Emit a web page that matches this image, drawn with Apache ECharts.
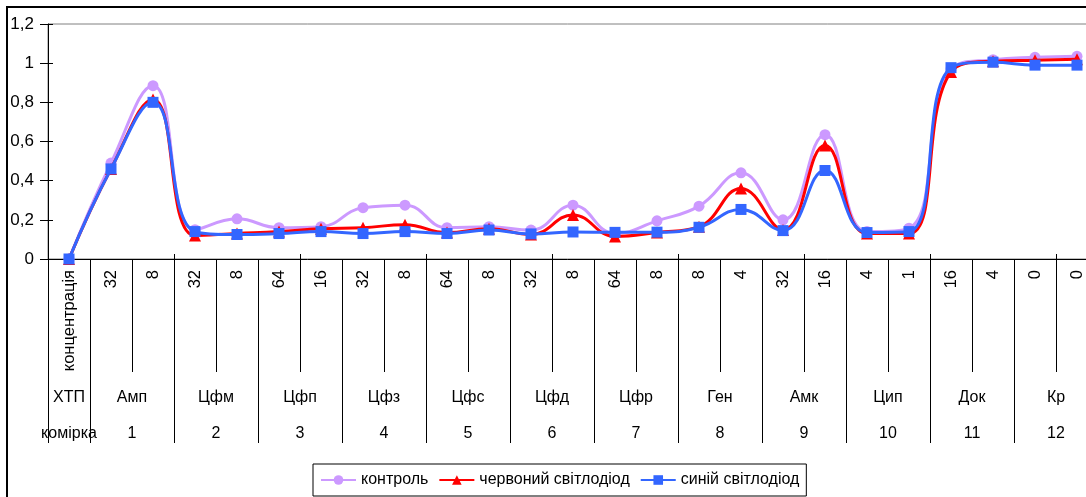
<!DOCTYPE html>
<html>
<head>
<meta charset="utf-8">
<script src="https://cdn.jsdelivr.net/npm/echarts@6/dist/echarts.min.js"></script>
<style>
html,body{margin:0;padding:0;background:#fff;}
#c{width:1086px;height:497px;}
</style>
</head>
<body>
<div id="c"></div>
<script>
// ---- data ----
const categories = ['концентрація','32','8','32','8','64','16','32','8','64','8','32','8','64','8','8','4','32','16','4','1','16','4','0','0'];
const groupNames = ['ХТП','Амп','Цфм','Цфп','Цфз','Цфс','Цфд','Цфр','Ген','Амк','Цип','Док','Кр'];
const cellRow = ['комірка','1','2','3','4','5','6','7','8','9','10','11','12'];
const yTicks = [0, 0.2, 0.4, 0.6, 0.8, 1, 1.2];
const seriesNames = ['контроль','червоний світлодіод','синій світлодіод'];
const control = [0, 0.49, 0.885, 0.15, 0.205, 0.16, 0.165, 0.262, 0.275, 0.16, 0.165, 0.148, 0.275, 0.13, 0.195, 0.27, 0.44, 0.2, 0.635, 0.14, 0.157, 0.97, 1.018, 1.03, 1.035];
const red     = [0, 0.46, 0.815, 0.12, 0.13, 0.14, 0.155, 0.16, 0.175, 0.135, 0.155, 0.125, 0.225, 0.115, 0.135, 0.165, 0.36, 0.148, 0.58, 0.13, 0.13, 0.955, 1.01, 1.015, 1.02];
const blue    = [0, 0.46, 0.80, 0.14, 0.125, 0.13, 0.14, 0.13, 0.14, 0.13, 0.148, 0.128, 0.138, 0.136, 0.137, 0.162, 0.253, 0.145, 0.452, 0.135, 0.14, 0.977, 1.005, 0.99, 0.99];

// ---- half-slot helper axes (51 slots: boundaries and centres) ----
const nSlots = categories.length * 2 + 1;
const slotIdx = Array.from({length: nSlots}, (_, j) => String(j));
const groupLabelAt = {}; const cellLabelAt = {};
groupNames.forEach((g, k) => { const j = k === 0 ? 1 : 4 * k; groupLabelAt[j] = g; cellLabelAt[j] = cellRow[k]; });
const isGroupBoundary = j => j === 0 || (j - 2) % 4 === 0;

const FONT = 'Liberation Sans, Arial, sans-serif';
const chart = echarts.init(document.getElementById('c'), null, {renderer: 'canvas'});
const colors = ['#CC99FF', '#FF0000', '#3366FF'];
const symbols = ['circle', 'triangle', 'rect'];
const symbolSizes = [11, 12, 11];
const datasets = [control, red, blue];
const yMin = yTicks[0], yMax = yTicks[yTicks.length - 1], yStep = yTicks[1] - yTicks[0];

chart.setOption({
  animation: false,
  backgroundColor: '#fff',
  textStyle: {fontFamily: FONT, color: '#000'},
  graphic: [{
    type: 'rect', silent: true, z: -10,
    shape: {x: 7, y: 7, width: 1300, height: 700},
    style: {fill: 'none', stroke: '#000', lineWidth: 2}
  }],
  grid: {left: 48, top: 24, right: -12, bottom: 238, outerBoundsMode: 'none', containLabel: false,
    show: true, borderColor: '#808080', borderWidth: 1, backgroundColor: 'transparent'},
  legend: {
    left: 313, top: 464,
    padding: [8, 7, 8, 7],
    itemWidth: 35, itemHeight: 12, itemGap: 10,
    borderColor: '#000', borderWidth: 1, backgroundColor: '#fff',
    textStyle: {fontFamily: FONT, fontSize: 16, color: '#000'},
    data: seriesNames
  },
  xAxis: [{
    type: 'category', data: categories, boundaryGap: true,
    axisLine: {show: true, lineStyle: {color: '#000', width: 1}},
    axisTick: {show: true, length: 113, lineStyle: {color: '#000', width: 1}},
    axisLabel: {rotate: 90, margin: 11, fontSize: 16.5, color: '#000', fontFamily: FONT, interval: 0}
  }, {
    type: 'category', data: slotIdx, boundaryGap: false, position: 'bottom',
    axisLine: {show: false},
    axisTick: {show: true, length: 184, interval: (i) => isGroupBoundary(i), lineStyle: {color: '#000', width: 1}},
    axisLabel: {margin: 131, fontSize: 16, color: '#000', fontFamily: FONT,
      interval: (i) => groupLabelAt[i] !== undefined,
      formatter: (v, i) => groupLabelAt[i] || ''}
  }, {
    type: 'category', data: slotIdx, boundaryGap: false, position: 'bottom',
    axisLine: {show: false}, axisTick: {show: false},
    axisLabel: {margin: 167, fontSize: 16, color: '#000', fontFamily: FONT,
      interval: (i) => cellLabelAt[i] !== undefined,
      formatter: (v, i) => cellLabelAt[i] || ''}
  }, {
    type: 'category', data: categories, boundaryGap: true, position: 'bottom',
    axisLine: {show: false}, axisLabel: {show: false},
    axisTick: {show: true, inside: true, length: 5, lineStyle: {color: '#000', width: 1}}
  }],
  yAxis: [{
    type: 'value', min: yMin, max: yMax, interval: yStep,
    splitLine: {show: false},
    axisLine: {show: true, lineStyle: {color: '#000', width: 1}},
    axisTick: {show: true, length: 8, lineStyle: {color: '#000'}},
    axisLabel: {margin: 14, fontSize: 17, color: '#000', fontFamily: FONT,
      formatter: v => String(+v.toFixed(1)).replace('.', ',')}
  }, {
    type: 'value', min: yMin, max: yMax, interval: yStep, position: 'left',
    splitLine: {show: false}, axisLine: {show: false}, axisLabel: {show: false},
    axisTick: {show: true, inside: true, length: 5, lineStyle: {color: '#000'}}
  }],
  series: seriesNames.map((name, k) => ({
    name, type: 'line', data: datasets[k], xAxisIndex: 0, yAxisIndex: 0,
    smooth: 0.45,
    symbol: symbols[k], symbolSize: symbolSizes[k], showSymbol: true,
    lineStyle: {color: colors[k], width: 3},
    itemStyle: {color: colors[k]},
    z: 2 + k
  }))
});
</script>
</body>
</html>
